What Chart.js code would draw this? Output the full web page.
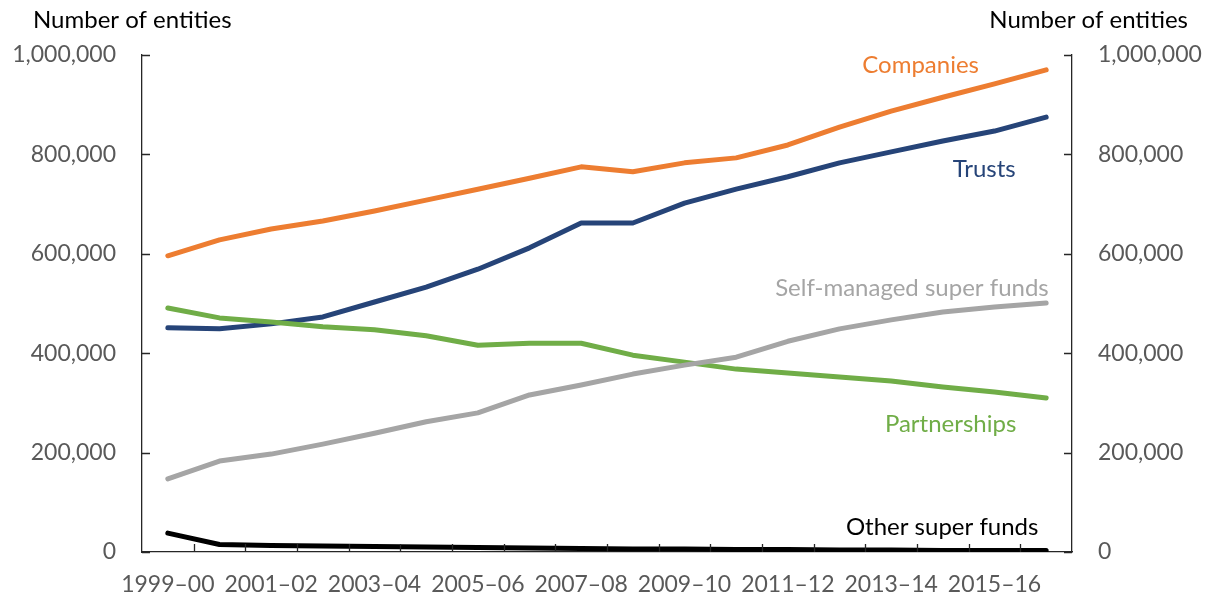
<!DOCTYPE html>
<html lang="en">
<head>
<meta charset="UTF-8">
<title>Number of entities</title>
<script src="https://cdn.jsdelivr.net/npm/chart.js"></script>
<style>
  html, body { margin: 0; padding: 0; background: #fff; }
  #chart { display: block; }
</style>
</head>
<body>
<canvas id="chart" width="1212" height="599"></canvas>
<script>
// years (financial years)
const years = ['1999–00','2000–01','2001–02','2002–03','2003–04','2004–05','2005–06','2006–07','2007–08',
               '2008–09','2009–10','2010–11','2011–12','2012–13','2013–14','2014–15','2015–16','2016–17'];
// values, number of entities
const companies    = [596000,628000,650000,666000,686000,708000,730000,752000,775000,765000,783000,793000,819000,855000,887000,915000,942000,970000];
const trusts       = [451000,449000,459000,473000,503000,533000,569000,612000,662000,662000,702000,730000,755000,783000,805000,827000,847000,875000];
const partnerships = [491000,471000,463000,453000,447000,435000,416000,420000,420000,396000,382000,368000,360000,352000,344000,332000,322000,310000];
const smsf         = [147000,183000,197000,217000,239000,262000,280000,316000,336000,358000,376000,392000,424000,449000,467000,483000,493000,501000];
const otherSuper   = [38000,15000,13000,12000,11000,10000,9000,8000,7000,6000,6000,5000,5000,4000,4000,3000,3000,3000];
const yTicks = [0, 200000, 400000, 600000, 800000, 1000000];

const FONT = 'Lato, "Open Sans", sans-serif';
const TICK_GREY = '#595959';
const AXIS = '#262626';

function series(label, data, color) {
    return { label: label, data: data, borderColor: color, backgroundColor: color,
             borderWidth: 5, pointRadius: 0, tension: 0, borderCapStyle: 'round', borderJoinStyle: 'round' };
}

// in-line labels next to each series, placed in data space
const seriesLabels = [
    { text: 'Companies', color: '#ED7D31', at: 14.57, value: 980000, align: 'center' },
    { text: 'Trusts', color: '#264478', at: 15.8, value: 770000, align: 'center' },
    { text: 'Self-managed super funds', color: '#A5A5A5', at: 17.05, value: 530000, align: 'right' },
    { text: 'Partnerships', color: '#70AD47', at: 15.15, value: 258000, align: 'center' },
    { text: 'Other super funds', color: '#000000', at: 16.85, value: 50000, align: 'right' }
];

const decorations = {
    id: 'decorations',
    afterDraw(chart) {
        const ctx = chart.ctx;
        const area = chart.chartArea;
        const x = chart.scales.x, yl = chart.scales.y;
        ctx.save();
        // inward tick marks
        ctx.strokeStyle = AXIS;
        ctx.lineWidth = 1.3;
        ctx.beginPath();
        yTicks.forEach(v => {
            const py = Math.round(yl.getPixelForValue(v)) + 0.5;
            ctx.moveTo(area.left, py); ctx.lineTo(area.left + 8, py);
            ctx.moveTo(area.right, py); ctx.lineTo(area.right - 8, py);
        });
        for (let i = 1; i < years.length; i++) {
            const px = Math.round((x.getPixelForValue(i - 1) + x.getPixelForValue(i)) / 2) + 0.5;
            ctx.moveTo(px, area.bottom); ctx.lineTo(px, area.bottom - 8);
        }
        ctx.stroke();
        // axis titles
        ctx.font = '24px ' + FONT;
        ctx.fillStyle = '#000';
        ctx.textBaseline = 'middle';
        ctx.textAlign = 'left';
        ctx.fillText('Number of entities', 33, 20);
        ctx.textAlign = 'right';
        ctx.fillText('Number of entities', 1188, 20);
        // series labels
        ctx.font = '24px ' + FONT;
        seriesLabels.forEach(l => {
            ctx.fillStyle = l.color;
            ctx.textAlign = l.align;
            ctx.fillText(l.text, x.getPixelForValue(l.at), yl.getPixelForValue(l.value));
        });
        ctx.restore();
    }
};

const yCommon = {
    min: 0, max: 1000000,
    afterBuildTicks: s => { s.ticks = yTicks.map(v => ({ value: v })); },
    grid: { display: true, drawOnChartArea: false, drawTicks: false },
    border: { display: true, color: AXIS, width: 1.3 },
    ticks: { color: TICK_GREY, font: { family: FONT, size: 23 }, padding: 26,
             callback: v => v.toLocaleString('en-US') }
};

new Chart(document.getElementById('chart'), {
    type: 'line',
    data: {
        labels: years,
        datasets: [
            series('Other super funds', otherSuper, '#000000'),
            series('Self-managed super funds', smsf, '#A5A5A5'),
            series('Partnerships', partnerships, '#70AD47'),
            series('Trusts', trusts, '#264478'),
            series('Companies', companies, '#ED7D31')
        ]
    },
    options: {
        responsive: false,
        animation: false,
        layout: { padding: { top: 55, left: 0, right: 0, bottom: 0 } },
        plugins: { legend: { display: false }, tooltip: { enabled: false } },
        scales: {
            x: {
                offset: true,
                grid: { display: false, drawTicks: false },
                border: { display: true, color: AXIS, width: 1.3 },
                ticks: { color: TICK_GREY, font: { family: FONT, size: 23 }, padding: 19,
                         autoSkip: false, maxRotation: 0,
                         callback: function(v, i) { return i % 2 === 0 ? years[i] : ''; } },
                afterFit: s => { s.height = 47; }
            },
            y: Object.assign({}, yCommon, { position: 'left', afterFit: s => { s.width = 142; } }),
            y2: Object.assign({}, yCommon, { position: 'right', afterFit: s => { s.width = 140; } })
        }
    },
    plugins: [decorations]
});
</script>
</body>
</html>
